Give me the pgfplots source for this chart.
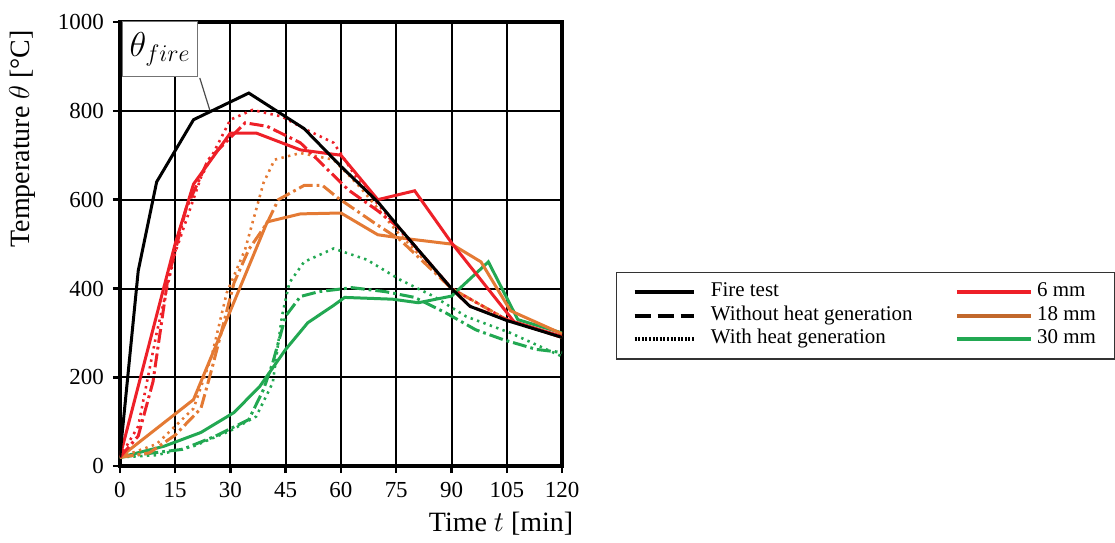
\documentclass[border=0pt]{standalone}
\usepackage{fontspec}
\setmainfont{Liberation Serif}
\usepackage{pgfplots}
\pgfplotsset{compat=1.18}

\definecolor{cRed}{RGB}{238,32,40}
\definecolor{cOrange}{RGB}{228,122,52}
\definecolor{cGreen}{RGB}{34,168,82}

\tikzset{
  without/.style={dash pattern=on 7pt off 2pt on 1.4pt off 2pt, line width=1.5pt},
  withheat/.style={dash pattern=on 1.2pt off 2.2pt, line width=1.3pt},
  solidc/.style={line width=1.5pt},
}

\begin{document}
\begin{tikzpicture}
\begin{axis}[
  name=ax,
  scale only axis,
  width=221.5pt, height=222.5pt,
  xmin=0, xmax=120, ymin=0, ymax=1000,
  xtick={0,15,...,120}, ytick={0,200,...,1000},
  xtick pos=left, ytick pos=left,
  tick align=outside,
  major tick length=3.5pt,
  tick style={black, line width=1.2pt},
  grid=major,
  grid style={black, line width=1pt},
  axis line style={black, line width=2pt},
  /pgf/number format/assume math mode=true,
  /pgf/number format/1000 sep={},
  tick label style={font=\fontsize{11.5}{13}\selectfont},
  xticklabel style={yshift=-1pt},
  yticklabel style={xshift=-1pt},
  label style={font=\fontsize{14}{16}\selectfont},
  xlabel={Time $t$ [min]},
  ylabel={Temperature $\theta$ [°C]},
  xlabel style={at={(axis description cs:0.862,0)}, anchor=center, yshift=-29pt},
  ylabel style={at={(axis description cs:-0.221,0.737)}, anchor=center},
  legend columns=2,
  legend style={
    at={([xshift=27pt]axis description cs:1,0.339)}, anchor=west,
    draw=black!80, line width=0.6pt,
    inner xsep=8pt, inner ysep=4pt,
    font=\fontsize{10.5}{12}\selectfont,
    cells={anchor=west},
    nodes={inner sep=1.2pt, text height=0.7em, text depth=0.24em},
    /tikz/column 1/.style={column sep=6pt},
    /tikz/column 2/.style={column sep=20pt},
    /tikz/column 3/.style={column sep=1pt},
  },
]

% legend entries (row by row)
\addlegendimage{legend image code/.code={\draw[black, line width=2pt] (0pt,0pt) -- (30pt,0pt);}}
\addlegendentry{Fire test}
\addlegendimage{legend image code/.code={\draw[cRed, line width=2pt] (0pt,0pt) -- (37pt,0pt);}}
\addlegendentry{6 mm}
\addlegendimage{legend image code/.code={\draw[black, line width=2pt, dash pattern=on 8pt off 3.5pt] (0pt,0pt) -- (30pt,0pt);}}
\addlegendentry{Without heat generation}
\addlegendimage{legend image code/.code={\draw[cOrange!85!black, line width=2pt] (0pt,0pt) -- (37pt,0pt);}}
\addlegendentry{18 mm}
\addlegendimage{legend image code/.code={\draw[black, line width=2pt, dash pattern=on 1pt off 0.8pt] (0pt,0pt) -- (30pt,0pt);}}
\addlegendentry{With heat generation}
\addlegendimage{legend image code/.code={\draw[cGreen, line width=2pt] (0pt,0pt) -- (37pt,0pt);}}
\addlegendentry{30 mm}

% 30 mm
\addplot[forget plot, cGreen, withheat] coordinates {
  (0,20)(10,25)(20,45)(30,80)(37,112)(41.5,188)(44,338)(46,413)(50,460)(58,490)
  (67,465)(76,420)(85,383)(94,337)(106,300)(120,247)};
\addplot[forget plot, cGreen, without] coordinates {
  (0,20)(9,30)(17,38)(26,68)(35,105)(39,173)(41.5,233)(45,338)(49,382)(54,393)
  (63,402)(72,393)(80,380)(88.5,345)(96.6,307)(104,285)(113,263)(120,256)};
\addplot[forget plot, cGreen, solidc] coordinates {
  (0,20)(12,45)(22,76)(31,121)(38,180)(45,263)(51,323)(58,362)(61,380)(74,376)
  (81,368)(90,383)(100,460)(108,330)(120,300)};

% 18 mm
\addplot[forget plot, cOrange, withheat] coordinates {
  (0,20)(10,50)(20,130)(25,250)(29,390)(34,488)(39,638)(42,690)(49,705)(58,690)
  (65,630)(75,530)(90,400)(105,330)(120,290)};
\addplot[forget plot, cOrange, without] coordinates {
  (0,20)(8,30)(15,70)(22,130)(25,220)(31,413)(35,488)(40,548)(43,600)(50,632)
  (55,632)(59,605)(69,548)(76,510)(90,400)(105,330)(120,290)};
\addplot[forget plot, cOrange, solidc] coordinates {
  (0,20)(10,85)(20,150)(25,250)(37,490)(40,550)(49,568)(60,570)(70,521)(76,514)
  (90,500)(98,460)(106,350)(120,298)};

% 6 mm
\addplot[forget plot, cRed, withheat] coordinates {
  (0,20)(5,90)(10,300)(15,480)(22,650)(30,780)(36,802)(44,787)(50,760)(58,728)
  (65,640)(75,540)(90,400)(105,330)(120,290)};
\addplot[forget plot, cRed, without] coordinates {
  (0,20)(5,68)(9,190)(13,420)(18,580)(24,690)(34,773)(40,765)(49,728)(62,622)
  (70,575)(76,535)(90,400)(95,360)(105,330)(120,290)};
\addplot[forget plot, cRed, solidc] coordinates {
  (0,20)(15,500)(20,635)(30,750)(37,750)(49,712)(60,700)(70,600)(80,620)(90,503)
  (107,325)(120,292)};

% fire test
\addplot[forget plot, black, line width=1.5pt] coordinates {
  (0,20)(5,440)(10,640)(20,780)(35,840)(50,760)(60,675)(70,595)(76,535)(90,400)
  (95,360)(105,328)(120,290)};

% curve label
\draw[black!70, line width=0.6pt] (axis cs:21.7,874) -- (axis cs:24.4,802);
\node[draw=black!55, line width=0.6pt, fill=white, anchor=north west,
      minimum width=37.5pt, minimum height=27.5pt, inner sep=1pt,
      font=\fontsize{18}{21}\selectfont]
  at (axis cs:0.6,1002) {$\theta_{fire}$};
\end{axis}
\path ([xshift=-60pt,yshift=-38pt]ax.south west) rectangle ([xshift=276pt,yshift=11pt]ax.north east);
\end{tikzpicture}
\end{document}
